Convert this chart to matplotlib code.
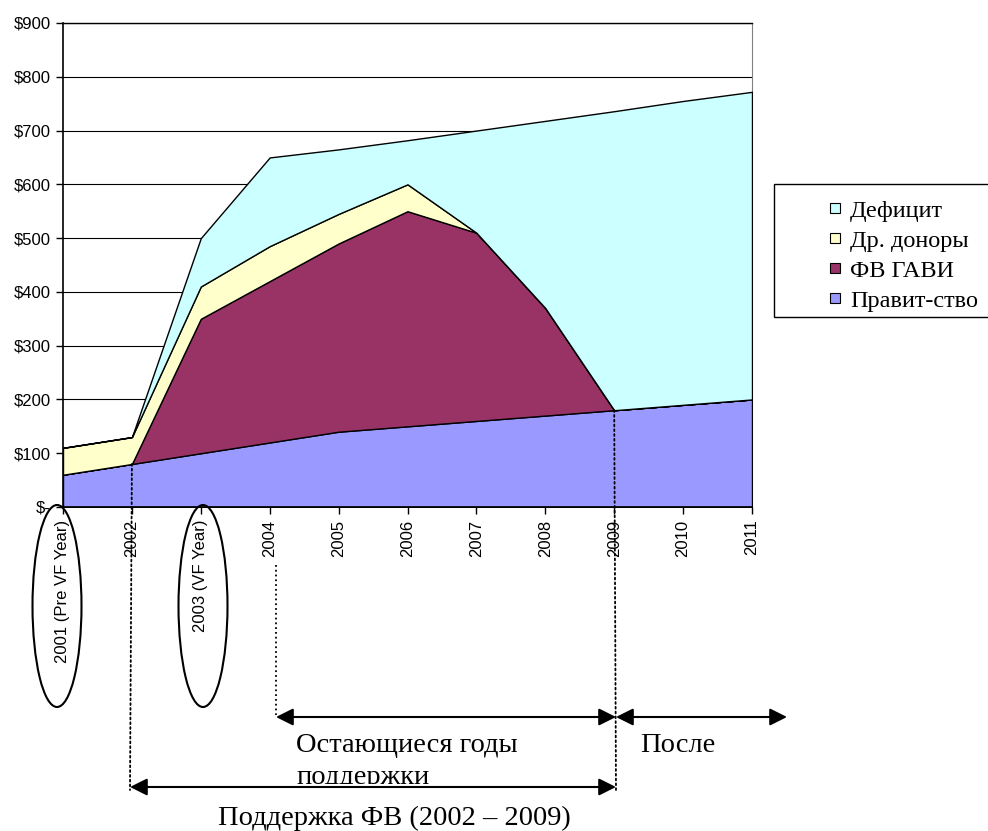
import numpy as np
import matplotlib
matplotlib.use('Agg')
import matplotlib.pyplot as plt
from matplotlib.patches import Ellipse, Rectangle, ConnectionPatch, FancyArrowPatch
from matplotlib.lines import Line2D

# data (US$)
years = np.arange(2001, 2012)
year_labels = ['2001 (Pre VF Year)', '2002', '2003 (VF Year)', '2004', '2005', '2006',
               '2007', '2008', '2009', '2010', '2011']
gov = [60, 80, 100, 120, 140, 150, 160, 170, 180, 190, 200]
gavi = [0, 0, 250, 300, 350, 400, 350, 200, 0, 0, 0]
other = [50, 50, 60, 65, 55, 50, 0, 0, 0, 0, 0]
deficit = [0, 0, 90, 165, 120, 82, 190, 348, 556, 565, 572]
names = ['Правит-ство', 'ФВ ГАВИ', 'Др. доноры', 'Дефицит']
colors = ['#9999FF', '#993366', '#FFFFCC', '#CCFFFF']
yticks = [0, 100, 200, 300, 400, 500, 600, 700, 800, 900]
ytick_labels = ['$-', '$100', '$200', '$300', '$400', '$500', '$600', '$700', '$800', '$900']

W, H = 988, 831
fig = plt.figure(figsize=(W/100, H/100), dpi=100)

def fx(x):
    return x/W

def fy(y):
    return 1 - y/H

ax = fig.add_axes([fx(63), fy(507), fx(752)-fx(63), fy(23)-fy(507)])
ax.stackplot(years, gov, gavi, other, deficit, colors=colors,
             edgecolor='black', linewidth=1, zorder=3)
ax.set_xlim(2001, 2011)
ax.set_ylim(0, 900)
ax.set_yticks(yticks)
ax.set_yticklabels(ytick_labels, fontsize=12, family='Liberation Sans')
ax.set_xticks(years)
ax.set_xticklabels(year_labels, rotation=90, fontsize=12, family='Liberation Sans',
                   va='top', ha='center')
ax.tick_params(axis='both', direction='out', length=5, width=1, color='black')
ax.tick_params(axis='x', pad=4)
ax.tick_params(axis='y', pad=4)
ax.grid(axis='y', color='black', linewidth=0.8, zorder=0)
ax.set_axisbelow(True)
for s in ['left', 'bottom']:
    ax.spines[s].set_linewidth(1.2)
    ax.spines[s].set_zorder(5)
ax.spines['right'].set_color('#808080')
ax.spines['top'].set_linewidth(1)

# legend
fig.add_artist(Rectangle((fx(774), fy(317)), fx(990)-fx(774), fy(184)-fy(317),
                         transform=fig.transFigure, facecolor='white',
                         edgecolor='black', linewidth=1))
handles = [Line2D([], [], marker='s', linestyle='none', markersize=6.5,
                  markerfacecolor=c, markeredgecolor='black', markeredgewidth=0.8)
           for c in colors[::-1]]
fig.legend(handles, names[::-1], loc='upper left',
           bbox_to_anchor=(fx(805), fy(178)), frameon=False,
           prop={'family': 'Liberation Serif', 'size': 17.5},
           handlelength=0.7, handletextpad=0.25, labelspacing=0.33)

# ellipses around highlighted years
for xc in [57, 203]:
    fig.add_artist(Ellipse((fx(xc), fy(606)), fx(49), fy(0)-fy(202),
                           transform=fig.transFigure, fill=False,
                           edgecolor='black', linewidth=1.5))

# dotted guide lines
for yr, lev, xb, ybot in [(2002, gov[1], 130, 790), (2009, gov[8], 616, 792)]:
    fig.add_artist(ConnectionPatch((yr, lev), (fx(xb), fy(ybot)),
                                   coordsA=ax.transData, coordsB=fig.transFigure,
                                   linestyle=':', linewidth=1.3, color='black', zorder=6))
fig.add_artist(Line2D([fx(276), fx(276)], [fy(565), fy(715)], transform=fig.transFigure,
                      linestyle=':', linewidth=1.3, color='black'))

serif = {'family': 'Liberation Serif', 'size': 20.5}
fig.text(fx(296), fy(745), 'Остающиеся годы', va='center', ha='left', **serif)
fig.text(fx(296), fy(777), 'поддержки', va='center', ha='left', **serif)
fig.text(fx(640), fy(745), 'После', va='center', ha='left', **serif)
fig.text(fx(394), fy(818), 'Поддержка ФВ (2002 – 2009)', va='center', ha='center', **serif)
# the text box of the second line is cut just above the lower arrow
fig.add_artist(Rectangle((fx(280), fy(800)), fx(300), fy(784)-fy(800),
                         transform=fig.transFigure, facecolor='white',
                         edgecolor='none', zorder=4))

# arrows
def arrow(x0, x1, y):
    fig.add_artist(FancyArrowPatch(
        (fx(x0), fy(y)), (fx(x1), fy(y)), transform=fig.transFigure,
        arrowstyle='<|-|>', mutation_scale=26, linewidth=1.5, color='black',
        shrinkA=0, shrinkB=0, zorder=7))

arrow(276, 616, 717)
arrow(616, 787, 717)
arrow(130, 616, 787)

fig.savefig('out.png', dpi=100)
